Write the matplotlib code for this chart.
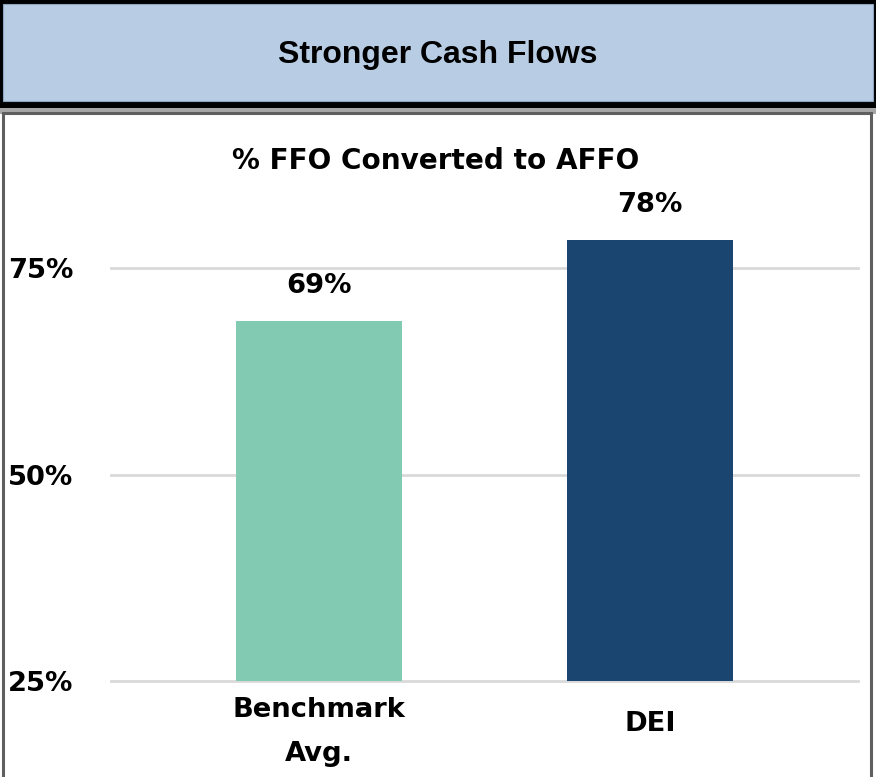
import matplotlib
matplotlib.use("Agg")
import matplotlib.pyplot as plt
from matplotlib.patches import Rectangle

# data
categories = ["Benchmark\nAvg.", "DEI"]
values = [68.6, 78.4]
value_labels = ["69%", "78%"]
bar_colors = ["#82CBB2", "#1B4571"]
y_ticks = [25, 50, 75]
y_tick_labels = ["25%", "50%", "75%"]

header_text = "Stronger Cash Flows"
chart_title = "% FFO Converted to AFFO"

W, H = 876, 777
FONT = "DejaVu Sans"
FS = 19.7


def fy(px):
    # pixel-from-top -> figure fraction
    return 1 - px / H


def fx(px):
    return px / W


fig = plt.figure(figsize=(W / 100, H / 100), dpi=100)
fig.patch.set_facecolor("white")

# header band: black frame with light blue fill
fig.add_artist(Rectangle((0, fy(108)), 1, 108 / H, transform=fig.transFigure,
                         facecolor="black", edgecolor="none", zorder=0))
fig.add_artist(Rectangle((fx(3), fy(101)), fx(870), 97 / H, transform=fig.transFigure,
                         facecolor="#B8CCE4", edgecolor="#8EA3BE", linewidth=0.8, zorder=1))
fig.add_artist(Rectangle((0, fy(114)), 1, 6 / H, transform=fig.transFigure,
                         facecolor="#A6A6A6", edgecolor="none", zorder=0))
fig.text(fx(438), fy(55), header_text, ha="center", va="center",
         fontsize=23, fontweight="bold", family="Liberation Sans", color="black")

# chart panel border
fig.add_artist(Rectangle((fx(2.5), fy(790)), fx(868), (790 - 113) / H, transform=fig.transFigure,
                         facecolor="white", edgecolor="#5F5F5F", linewidth=2.2, zorder=1))

ax = fig.add_axes([fx(111), fy(681), fx(858 - 111), (681 - 185.4) / H])
ax.set_zorder(2)
ax.patch.set_alpha(0)

x = list(range(len(categories)))
ax.bar(x, values, width=0.5, color=bar_colors, zorder=3, bottom=0)
ax.set_ylim(25, 85)
ax.set_xlim(-0.628, 1.628)

ax.set_yticks(y_ticks)
ax.set_yticklabels(y_tick_labels, fontsize=FS, fontweight="bold", family=FONT)
ax.tick_params(axis="y", length=0, pad=27)
ax.set_xticks([])
ax.grid(axis="y", color="#D9D9D9", linewidth=2, zorder=0)
for gl in ax.get_ygridlines():
    gl.set_clip_on(False)
for s in ax.spines.values():
    s.set_visible(False)

for i, (v, lab) in enumerate(zip(values, value_labels)):
    ax.annotate(lab, xy=(i, v), xytext=(0, 25), textcoords="offset points",
                ha="center", va="center", fontsize=FS, fontweight="bold", family=FONT)

# category labels sit centred below the axis, two-line ones a bit lower
for i, cat in enumerate(categories):
    dy = -31 - 5.5 * cat.count("\n")
    ax.annotate(cat, xy=(i, 0), xycoords=("data", "axes fraction"),
                xytext=(0, dy), textcoords="offset points",
                ha="center", va="center", fontsize=FS, fontweight="bold", family=FONT,
                linespacing=1.9)

fig.text(fx(436), fy(161), chart_title, ha="center", va="center",
         fontsize=FS + 0.4, fontweight="bold", family=FONT)

fig.savefig("out.png", dpi=100)
